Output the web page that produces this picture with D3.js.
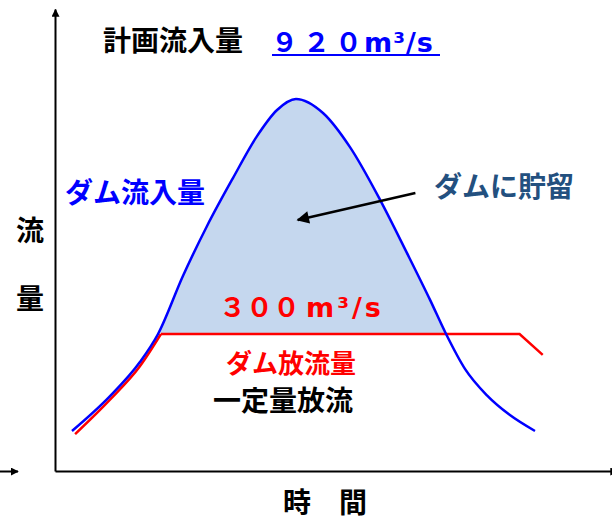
<!DOCTYPE html>
<html>
<head>
<meta charset="utf-8">
<script src="https://cdn.jsdelivr.net/npm/d3@7"></script>
<style>
  body { margin: 0; background: #fff; }
  svg { display: block; font-family: 'Noto Sans CJK JP', sans-serif; font-weight: bold; }
</style>
</head>
<body>
<div id="chart"></div>
<script>
// inflow to the dam (time in hours, flow in m3/s)
const inflowTime = [0, 1.97, 3.52, 4.46, 5.75, 7.0, 8.35, 9.59, 10.63, 11.61, 13.01, 14.41, 15.97, 17.36, 18.56, 19.39, 20.37, 21.51, 22.7, 24];
const inflowFlow = [44, 136, 226, 300, 453, 585, 712, 822, 891, 920, 883, 793, 654, 514, 390, 300, 208, 138, 86, 44];

// dam release: follows the inflow, then held at a constant 300
const outRiseTime = [0.16, 1.97, 3.52, 4.61];
const outRiseFlow = [36, 127, 215, 300];
const outFlatTime = [4.61, 23.2, 24.4];
const outFlatFlow = [300, 300, 245];

const planFlow = 920;
const releaseFlow = 300;

// arrow pointing into the stored volume
const arrowTime = [17.8, 11.7];
const arrowFlow = [672, 601];

const width = 612, height = 520;

let x = d3.scaleLinear().domain([0, 24]).range([72, 535]);
let y = d3.scaleLinear().domain([releaseFlow, planFlow]).range([334, 99]);

let svg = d3.select('#chart').append('svg')
    .attr('width', width)
    .attr('height', height);

let defs = svg.append('defs');

// arrow heads
defs.append('marker')
    .attr('id', 'axisHead')
    .attr('viewBox', '0 0 10 10')
    .attr('refX', 9).attr('refY', 5)
    .attr('markerWidth', 4).attr('markerHeight', 4)
    .attr('markerUnits', 'strokeWidth')
    .attr('orient', 'auto')
    .append('path')
    .attr('d', 'M0,0L10,5L0,10z')
    .attr('fill', '#000');

defs.append('marker')
    .attr('id', 'bigHead')
    .attr('viewBox', '0 0 10 10')
    .attr('refX', 9).attr('refY', 5)
    .attr('markerWidth', 6).attr('markerHeight', 5)
    .attr('markerUnits', 'strokeWidth')
    .attr('orient', 'auto')
    .append('path')
    .attr('d', 'M0,0L10,5L0,10z')
    .attr('fill', '#000');

defs.append('clipPath')
    .attr('id', 'aboveRelease')
    .append('rect')
    .attr('x', 0).attr('y', 0)
    .attr('width', width)
    .attr('height', y(releaseFlow) - 1);

// axes (no ticks, just arrows)
let xAxisScale = d3.scaleLinear()
    .domain([x.invert(55), x.invert(617)])
    .range([55, 617]);
let yAxisScale = d3.scaleLinear()
    .domain([y.invert(471), y.invert(9)])
    .range([471, 9]);

let xAxis = g => g
    .attr('transform', `translate(0,471)`)
    .call(d3.axisBottom(xAxisScale).tickValues([]).tickSizeOuter(0));

let yAxis = g => g
    .attr('transform', `translate(55,0)`)
    .call(d3.axisLeft(yAxisScale).tickValues([]).tickSizeOuter(0));

svg.append('g').call(xAxis)
    .select('.domain')
    .attr('stroke-width', 2)
    .attr('marker-end', 'url(#axisHead)');

svg.append('g').call(yAxis)
    .select('.domain')
    .attr('stroke-width', 2)
    .attr('marker-end', 'url(#axisHead)');

// stray arrow tip at the left edge
svg.append('line')
    .attr('x1', 0).attr('y1', 471.5)
    .attr('x2', 18).attr('y2', 471.5)
    .attr('stroke', '#000')
    .attr('stroke-width', 2)
    .attr('marker-end', 'url(#axisHead)');

let inflow = inflowTime.map((t, i) => [t, inflowFlow[i]]);
let outRise = outRiseTime.map((t, i) => [t, outRiseFlow[i]]);
let outFlat = outFlatTime.map((t, i) => [t, outFlatFlow[i]]);

// stored volume
let area = d3.area()
    .x(d => x(d[0]))
    .y0(y(releaseFlow))
    .y1(d => y(d[1]))
    .curve(d3.curveMonotoneX);

svg.append('path')
    .datum(inflow)
    .attr('clip-path', 'url(#aboveRelease)')
    .attr('fill', '#c5d7ee')
    .attr('d', area);

let line = d3.line()
    .x(d => x(d[0]))
    .y(d => y(d[1]));

svg.append('path')
    .datum(outRise)
    .attr('fill', 'none')
    .attr('stroke', '#ff0000')
    .attr('stroke-width', 2.5)
    .attr('d', line.curve(d3.curveMonotoneX));

svg.append('path')
    .datum(outFlat)
    .attr('fill', 'none')
    .attr('stroke', '#ff0000')
    .attr('stroke-width', 2.5)
    .attr('d', line.curve(d3.curveLinear));

svg.append('path')
    .datum(inflow)
    .attr('fill', 'none')
    .attr('stroke', '#0000ff')
    .attr('stroke-width', 2.5)
    .attr('d', line.curve(d3.curveMonotoneX));

svg.append('line')
    .attr('x1', x(arrowTime[0])).attr('y1', y(arrowFlow[0]))
    .attr('x2', x(arrowTime[1])).attr('y2', y(arrowFlow[1]))
    .attr('stroke', '#000')
    .attr('stroke-width', 2.5)
    .attr('marker-end', 'url(#bigHead)');

// labels
let label = (tx, ty, txt, color, size) => svg.append('text')
    .attr('x', tx).attr('y', ty)
    .attr('fill', color)
    .style('font-size', (size || 28) + 'px')
    .text(txt);

label(103, 51, '計画流入量', '#000');
label(65, 203, 'ダム流入量', '#0000ff');
label(434, 197, 'ダムに貯留', '#23507f');
label(226, 373, 'ダム放流量', '#ff0000', 26);
label(213, 411, '一定量放流', '#000');
label(16, 241, '流', '#000');
label(16, 309, '量', '#000');
label(283, 513, '時', '#000');
label(339, 513, '間', '#000');

let plan = svg.append('text')
    .attr('x', 271).attr('y', 52)
    .attr('fill', '#0000ff')
    .style('font-size', '27px');
plan.append('tspan')
    .style('letter-spacing', '5px')
    .text('９２０');
plan.append('tspan')
    .attr('dx', -3)
    .style('font-family', 'DejaVu Sans')
    .style('letter-spacing', '1px')
    .text('m³/s');

svg.append('line')
    .attr('x1', 272).attr('x2', 440)
    .attr('y1', 55).attr('y2', 55)
    .attr('stroke', '#0000ff')
    .attr('stroke-width', 2);

let rel = svg.append('text')
    .attr('x', 219).attr('y', 317)
    .attr('fill', '#ff0000')
    .style('font-size', '27px');
rel.append('tspan')
    .text('３００');
rel.append('tspan')
    .attr('dx', 6)
    .style('font-family', 'DejaVu Sans')
    .style('letter-spacing', '3px')
    .text('m³/s');
</script>
</body>
</html>
